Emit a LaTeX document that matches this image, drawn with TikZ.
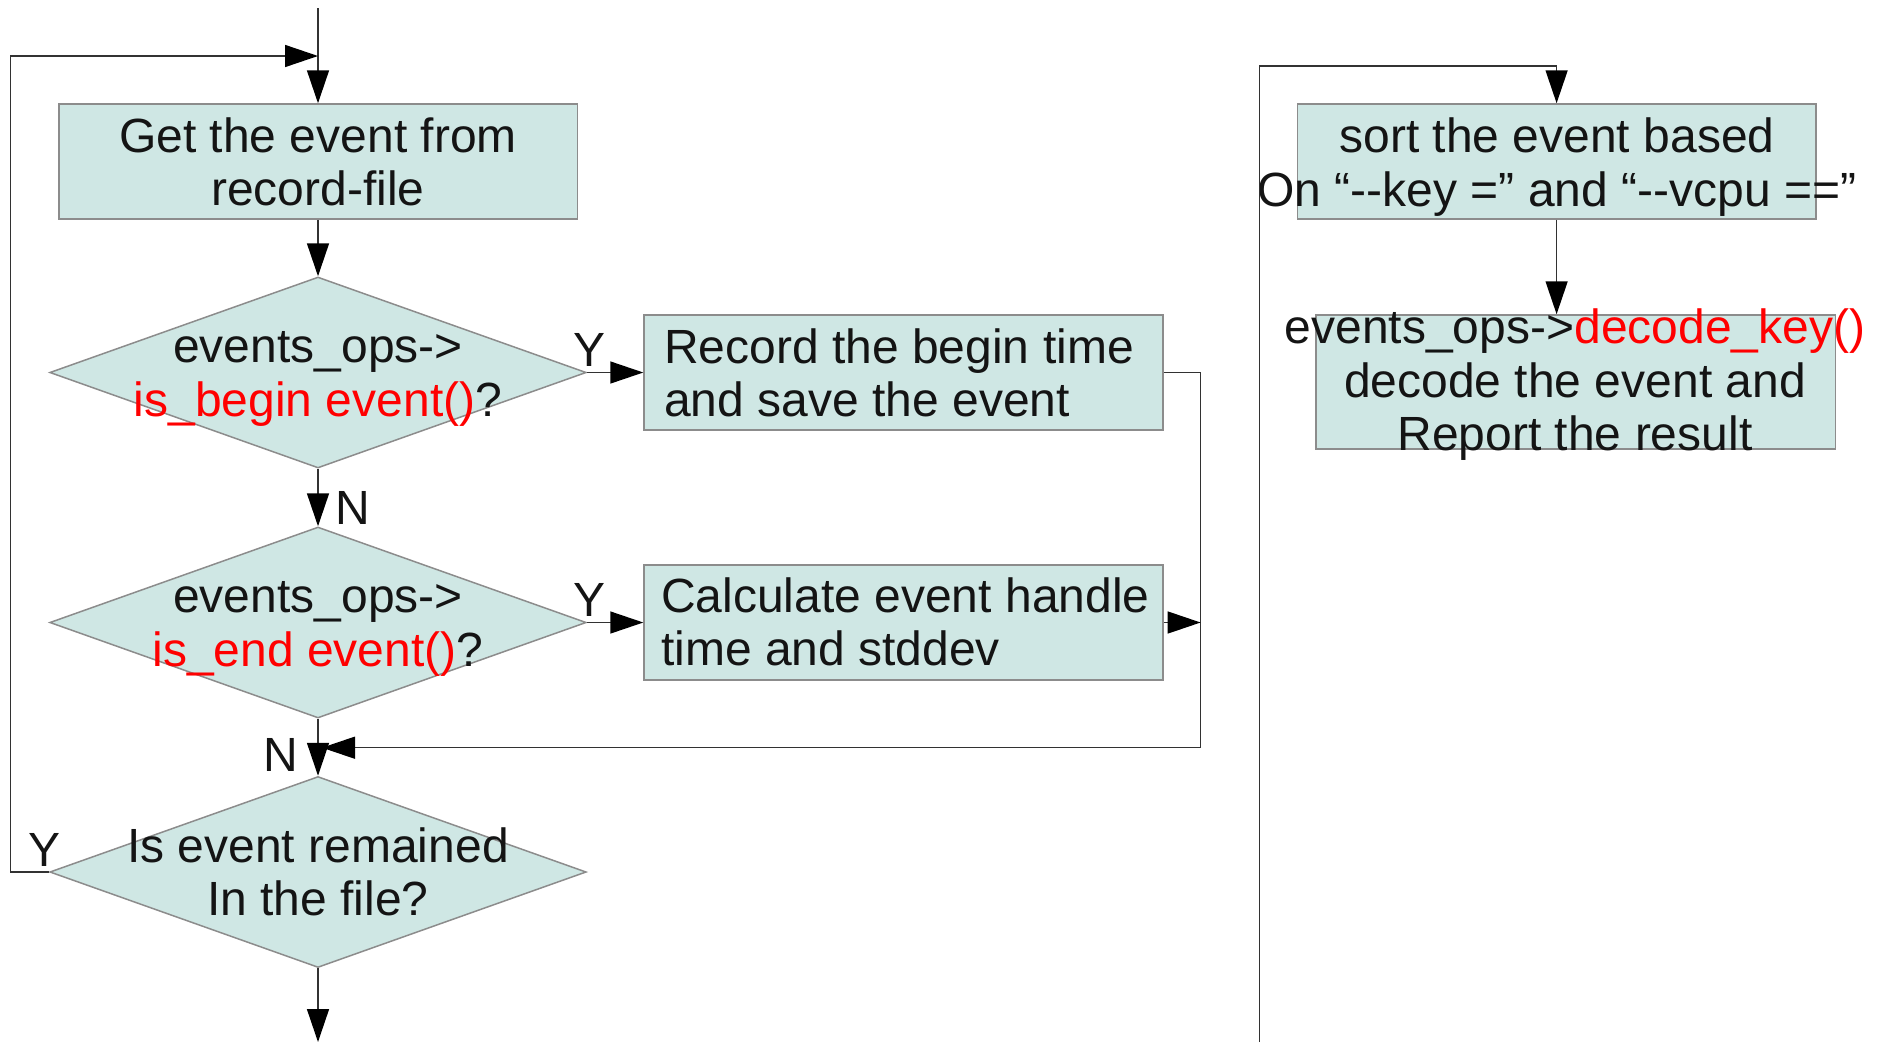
\documentclass[tikz,border=0pt]{standalone}
\usepackage{fontspec}
\setmainfont{Liberation Sans}
\usetikzlibrary{arrows.meta,shapes.geometric}
\definecolor{boxfill}{RGB}{207,231,228}
\definecolor{boxline}{RGB}{140,140,140}
\definecolor{conncol}{RGB}{50,50,50}
\begin{document}
\begin{tikzpicture}[x=1pt,y=-1pt,
  every node/.style={font=\fontsize{48}{53.5}\selectfont, inner sep=0pt, text=black!92},
  box/.style={draw=boxline, fill=boxfill, line width=1.5pt, rectangle},
  dia/.style={draw=boxline, fill=boxfill, line width=1.5pt, shape=diamond, minimum width=536.5pt, minimum height=191pt},
  conn/.style={draw=conncol, line width=1.5pt},
  arr/.style={conn, -{Triangle[length=33pt,width=22pt,color=black]}},
  txt/.style={align=center},
  ltxt/.style={align=left, anchor=west}
]
\useasboundingbox (0,0) rectangle (1884,1042);
% boxes
\node[box, minimum width=518.5pt, minimum height=115pt] (b1) at (318,161.5) {};
\node[txt] (b1t) at (318,162) {Get the event from\\record-file};
\node[dia] (d1) at (318,372.5) {};
\node[txt] (d1t) at (318,379) {events\_ops->\\\textcolor{red}{is\_begin event()}?};
\node[dia] (d2) at (318,622.5) {};
\node[txt] (d2t) at (318,629) {events\_ops->\\\textcolor{red}{is\_end event()}?};
\node[dia] (d3) at (318,872) {};
\node[txt] (d3t) at (318,872) {Is event remained\\In the file?};
\node[box, minimum width=519pt, minimum height=115pt] (b2) at (903.5,372.5) {};
\node[ltxt] (b2t) at (664,373) {Record the begin time\\and save the event};
\node[box, minimum width=519pt, minimum height=115pt] (b3) at (903.5,622.5) {};
\node[ltxt] (b3t) at (661,622) {Calculate event handle\\time and stddev};
\node[box, minimum width=518.3pt, minimum height=115pt] (b4) at (1556.6,161.5) {};
\node[txt] (b4t) at (1557,167) {sort the event based\\On “\mbox{-}\mbox{-}key =” and “\mbox{-}\mbox{-}vcpu ==”};
\node[box, minimum width=519.5pt, minimum height=134pt] (b5) at (1575.7,382) {};
\node[txt] (b5t) at (1575,385) {events\_ops->\textcolor{red}{decode\_key()}\\decode the event and\\Report the result};
% labels
\node (y1) at (589,350) {Y};
\node (n1) at (353,508) {N};
\node (y2) at (589,600) {Y};
\node (n2) at (281,755) {N};
\node (y3) at (45,850) {Y};
% coordinates
\coordinate (top) at (318,8);
\coordinate (join) at (318,56);
\coordinate (bot) at (318,1042);
\coordinate (rx) at (1200.6,747.7);
\coordinate (m) at (322,747.7);
\coordinate (rbot) at (1259.3,1042);
\coordinate (rtop) at (1259.3,66);
% connectors
\draw[arr] (top) -- (b1.north);
\draw[arr] (d3.west) -- ++(-38.5,0) |- (join);
\draw[arr] (b1.south) -- (d1.north);
\draw[arr] (d1.east) -- (b2.west);
\draw[arr] (d1.south) -- (d2.north);
\draw[arr] (d2.east) -- (b3.west);
\draw[arr] (d2.south) -- (d3.north);
\draw[arr] (b2.east) -| (rx) -- (m);
\draw[arr] (b3.east) -- (b3.east -| rx);
\draw[arr] (d3.south) -- (bot);
\draw[arr] (rbot) -- (rtop) -| (b4.north);
\draw[arr] (b4.south) -- (b4.south |- b5.north);
\end{tikzpicture}
\end{document}
